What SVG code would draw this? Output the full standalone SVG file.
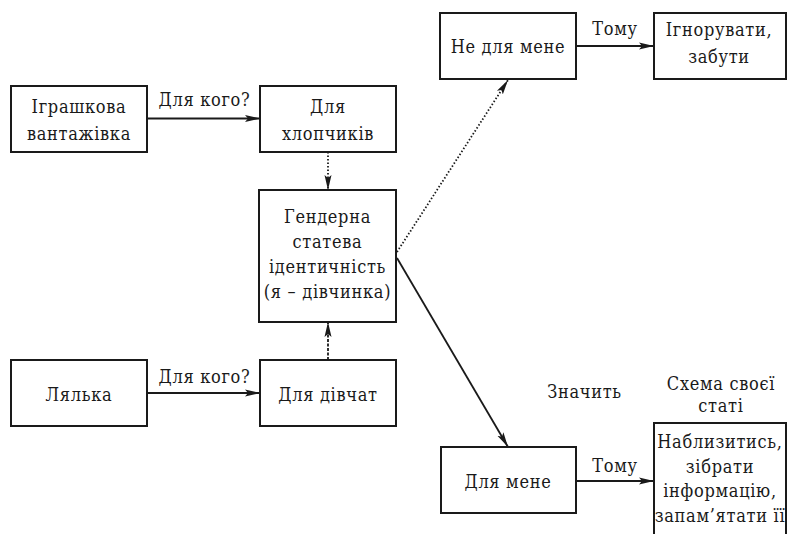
<svg xmlns="http://www.w3.org/2000/svg" width="788" height="534" viewBox="0 0 788 534">
<defs>
<marker id="ah" markerUnits="userSpaceOnUse" markerWidth="16" markerHeight="10" refX="15" refY="4" orient="auto" viewBox="0 0 16 8">
<path d="M0,0.5 L15,4 L0,7.5 L3,4 z" fill="#1a1a1a"/>
</marker>
<style>
.box{fill:#fff;stroke:#1a1a1a;stroke-width:2}
.t{font-family:'DejaVu Serif Condensed','DejaVu Serif',serif;font-size:18px;letter-spacing:0.7px;fill:#1a1a1a;text-anchor:middle}
.c{stroke:#1a1a1a;stroke-width:1.8;fill:none}
.dot{stroke-dasharray:1.5,2}
.dash{stroke-dasharray:3,1.5}
</style>
</defs>
<rect width="788" height="534" fill="#fff"/>
<g id="connectors">
<line class="c" x1="147" y1="118.5" x2="260" y2="118.5" marker-end="url(#ah)"/>
<line class="c" x1="147" y1="393" x2="260" y2="393" marker-end="url(#ah)"/>
<line class="c dot" x1="328" y1="152" x2="328" y2="190" marker-end="url(#ah)"/>
<line class="c dash" x1="328" y1="360" x2="328" y2="322" marker-end="url(#ah)"/>
<line class="c dot" x1="397" y1="252" x2="508" y2="80" marker-end="url(#ah)"/>
<line class="c" x1="397" y1="258" x2="508" y2="447" marker-end="url(#ah)"/>
<line class="c" x1="576" y1="46" x2="654" y2="46" marker-end="url(#ah)"/>
<line class="c" x1="576" y1="481" x2="654" y2="481" marker-end="url(#ah)"/>
<text class="t" x="204.5" y="106">Для кого?</text>
<text class="t" x="204.5" y="383">Для кого?</text>
<text class="t" x="615" y="35">Тому</text>
<text class="t" x="615" y="472">Тому</text>
<text class="t" x="584.5" y="398">Значить</text>
</g>
<g id="toy-truck">
<rect class="box" x="11" y="86" width="136" height="66"/>
<text class="t" x="79" y="113">Іграшкова</text>
<text class="t" x="79" y="140">вантажівка</text>
</g>
<g id="for-boys">
<rect class="box" x="260" y="86" width="136" height="66"/>
<text class="t" x="328" y="113">Для</text>
<text class="t" x="328" y="140">хлопчиків</text>
</g>
<g id="gender-identity">
<rect class="box" x="259" y="190" width="137" height="132"/>
<text class="t" x="327.5" y="223">Гендерна</text>
<text class="t" x="327.5" y="248">статева</text>
<text class="t" x="327.5" y="273">ідентичність</text>
<text class="t" x="327.5" y="298">(я – дівчинка)</text>
</g>
<g id="doll">
<rect class="box" x="11" y="360" width="136" height="66"/>
<text class="t" x="79" y="401">Лялька</text>
</g>
<g id="for-girls">
<rect class="box" x="260" y="360" width="136" height="66"/>
<text class="t" x="328" y="401">Для дівчат</text>
</g>
<g id="not-for-me">
<rect class="box" x="440" y="13" width="136" height="66"/>
<text class="t" x="508" y="53">Не для мене</text>
</g>
<g id="ignore">
<rect class="box" x="654" y="13" width="132" height="66"/>
<text class="t" x="719" y="36">Ігнорувати,</text>
<text class="t" x="719" y="63">забути</text>
</g>
<g id="for-me">
<rect class="box" x="441" y="447" width="135" height="66"/>
<text class="t" x="508" y="488">Для мене</text>
</g>
<g id="own-gender-schema">
<text class="t" x="721" y="390">Схема своєї</text>
<text class="t" x="721" y="412">статі</text>
<rect class="box" x="654" y="423" width="132" height="125"/>
<text class="t" x="720" y="448">Наблизитись,</text>
<text class="t" x="720" y="472.5">зібрати</text>
<text class="t" x="720" y="497">інформацію,</text>
<text class="t" x="720" y="521.5">запам’ятати її</text>
</g>
</svg>
